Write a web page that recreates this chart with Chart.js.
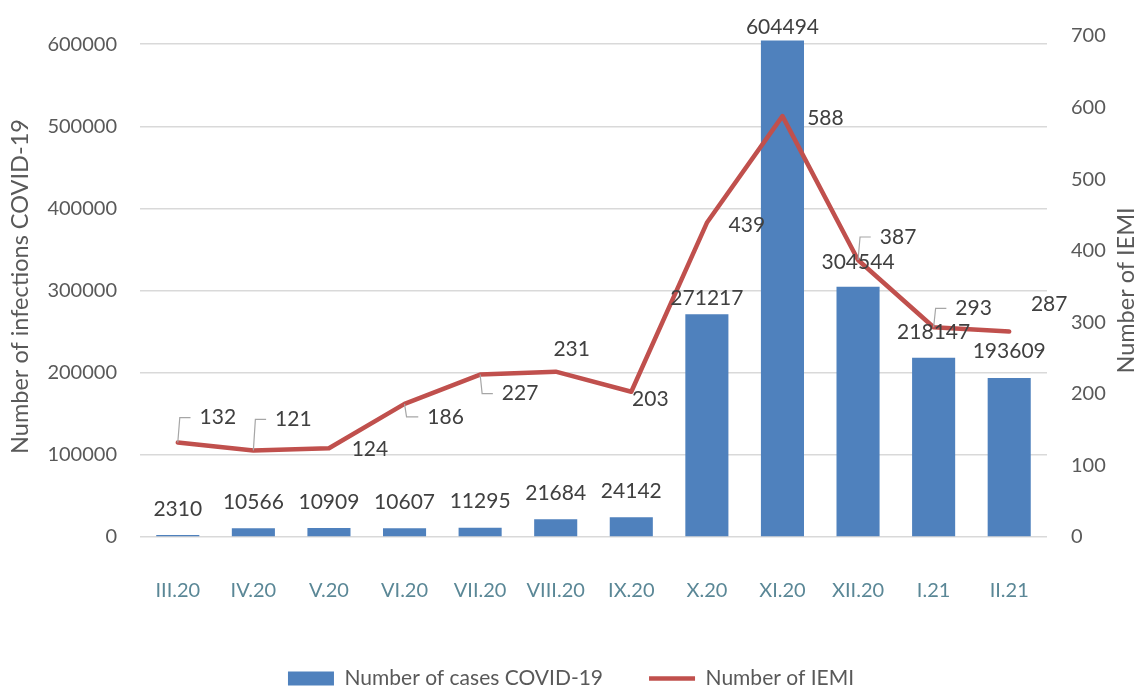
<!DOCTYPE html>
<html>
<head>
<meta charset="utf-8">
<script src="https://cdn.jsdelivr.net/npm/chart.js@4.4.1/dist/chart.umd.min.js"></script>
<style>
  html, body { margin: 0; padding: 0; background: #fff; }
  #wrap { width: 1142px; height: 689px; position: relative; }
</style>
</head>
<body>
<div id="wrap"><canvas id="chart"></canvas></div>
<script>
// data
const months = ['III.20', 'IV.20', 'V.20', 'VI.20', 'VII.20', 'VIII.20', 'IX.20', 'X.20', 'XI.20', 'XII.20', 'I.21', 'II.21'];
const covidCases = [2310, 10566, 10909, 10607, 11295, 21684, 24142, 271217, 604494, 304544, 218147, 193609];
const iemiCounts = [132, 121, 124, 186, 227, 231, 203, 439, 588, 387, 293, 287];
const casesTicks = [0, 100000, 200000, 300000, 400000, 500000, 600000];
const iemiTicks = [0, 100, 200, 300, 400, 500, 600, 700];

// label placement (px offsets from the mark), leader = draw bracket line
const barLabelDy = [-26, -26, -26, -26, -26, -26, -26, -16, -13, -25, -26, -27];
const lineLabelPos = [
    { dx: 40, dy: -25, leader: true },
    { dx: 40, dy: -31, leader: true },
    { dx: 41, dy: 1, leader: false },
    { dx: 41, dy: 13, leader: true },
    { dx: 40, dy: 19, leader: true },
    { dx: 16, dy: -22, leader: false },
    { dx: 19, dy: 8, leader: false },
    { dx: 40, dy: 2, leader: false },
    { dx: 43, dy: 2, leader: false },
    { dx: 40, dy: -23, leader: true },
    { dx: 40, dy: -19, leader: true },
    { dx: 40, dy: -27, leader: false }
];

const FONT = 'Lato, "Open Sans", sans-serif';
const TEXT = '#595959';
const LABEL = '#404040';

const dataLabels = {
    id: 'dataLabels',
    afterDatasetsDraw(chart) {
        const ctx = chart.ctx;
        ctx.save();
        ctx.font = '21px ' + FONT;
        ctx.fillStyle = LABEL;
        ctx.textAlign = 'center';
        ctx.textBaseline = 'middle';

        chart.getDatasetMeta(0).data.forEach((bar, i) => {
            ctx.fillText(String(covidCases[i]), bar.x, bar.y + barLabelDy[i]);
        });

        chart.getDatasetMeta(1).data.forEach((pt, i) => {
            const p = lineLabelPos[i];
            const tx = pt.x + p.dx;
            const ty = pt.y + p.dy;
            if (p.leader) {
                const w = ctx.measureText(String(iemiCounts[i])).width;
                ctx.strokeStyle = '#a6a6a6';
                ctx.lineWidth = 1.2;
                ctx.beginPath();
                ctx.moveTo(pt.x, pt.y);
                ctx.lineTo(pt.x + 2, ty);
                ctx.lineTo(tx - w / 2 - 9, ty);
                ctx.stroke();
            }
            ctx.fillText(String(iemiCounts[i]), tx, ty);
        });

        // right axis title, reading bottom to top
        const y1 = chart.scales.y1;
        ctx.save();
        ctx.translate(1126, (y1.top + y1.bottom) / 2 + 4);
        ctx.rotate(-Math.PI / 2);
        ctx.font = '23.5px ' + FONT;
        ctx.fillStyle = TEXT;
        ctx.fillText('Number of IEMI', 0, 0);
        ctx.restore();

        ctx.restore();
    }
};

new Chart(document.getElementById('chart'), {
    type: 'bar',
    data: {
        labels: months,
        datasets: [
            {
                label: 'Number of cases COVID-19',
                data: covidCases,
                backgroundColor: '#4f81bd',
                borderWidth: 0,
                barPercentage: 0.57,
                categoryPercentage: 1,
                yAxisID: 'y',
                pointStyle: 'rect',
                order: 2
            },
            {
                type: 'line',
                label: 'Number of IEMI',
                data: iemiCounts,
                borderColor: '#c0504d',
                backgroundColor: '#c0504d',
                borderWidth: 4.5,
                borderCapStyle: 'round',
                borderJoinStyle: 'round',
                pointRadius: 0,
                pointStyle: 'line',
                tension: 0,
                yAxisID: 'y1',
                order: 1
            }
        ]
    },
    options: {
        responsive: true,
        maintainAspectRatio: false,
        animation: false,
        layout: { padding: { top: 34, bottom: -10, left: 0, right: 0 } },
        plugins: {
            legend: {
                position: 'bottom',
                labels: {
                    usePointStyle: true,
                    pointStyleWidth: 46,
                    boxHeight: 14,
                    padding: 46,
                    color: TEXT,
                    font: { family: FONT, size: 21 },
                    sort: (a, b) => a.datasetIndex - b.datasetIndex
                }
            },
            tooltip: { enabled: false }
        },
        scales: {
            x: {
                grid: { display: false },
                border: { display: false },
                ticks: {
                    color: '#5a8796',
                    padding: 34,
                    maxRotation: 0,
                    font: { family: FONT, size: 20 }
                },
                afterFit: (scale) => { scale.height = 85; }
            },
            y: {
                position: 'left',
                min: 0,
                max: 610000,
                afterBuildTicks: (scale) => {
                    scale.ticks = casesTicks.map(v => ({ value: v }));
                },
                grid: { color: '#d9d9d9', lineWidth: 1.5, drawTicks: false },
                border: { display: false },
                ticks: {
                    color: TEXT,
                    padding: 23,
                    font: { family: FONT, size: 20 },
                    callback: (v) => String(v)
                },
                title: {
                    display: true,
                    text: 'Number of infections COVID-19',
                    color: TEXT,
                    font: { family: FONT, size: 23.5 },
                    padding: { top: 6, bottom: 0 }
                },
                afterFit: (scale) => { scale.width = 140; }
            },
            y1: {
                position: 'right',
                min: 0,
                max: 700,
                afterBuildTicks: (scale) => {
                    scale.ticks = iemiTicks.map(v => ({ value: v }));
                },
                grid: { display: false, drawTicks: false },
                border: { display: false },
                ticks: {
                    color: TEXT,
                    padding: 24,
                    font: { family: FONT, size: 20 },
                    callback: (v) => String(v)
                },
                afterFit: (scale) => { scale.width = 95; }
            }
        }
    },
    plugins: [dataLabels]
});
</script>
</body>
</html>
